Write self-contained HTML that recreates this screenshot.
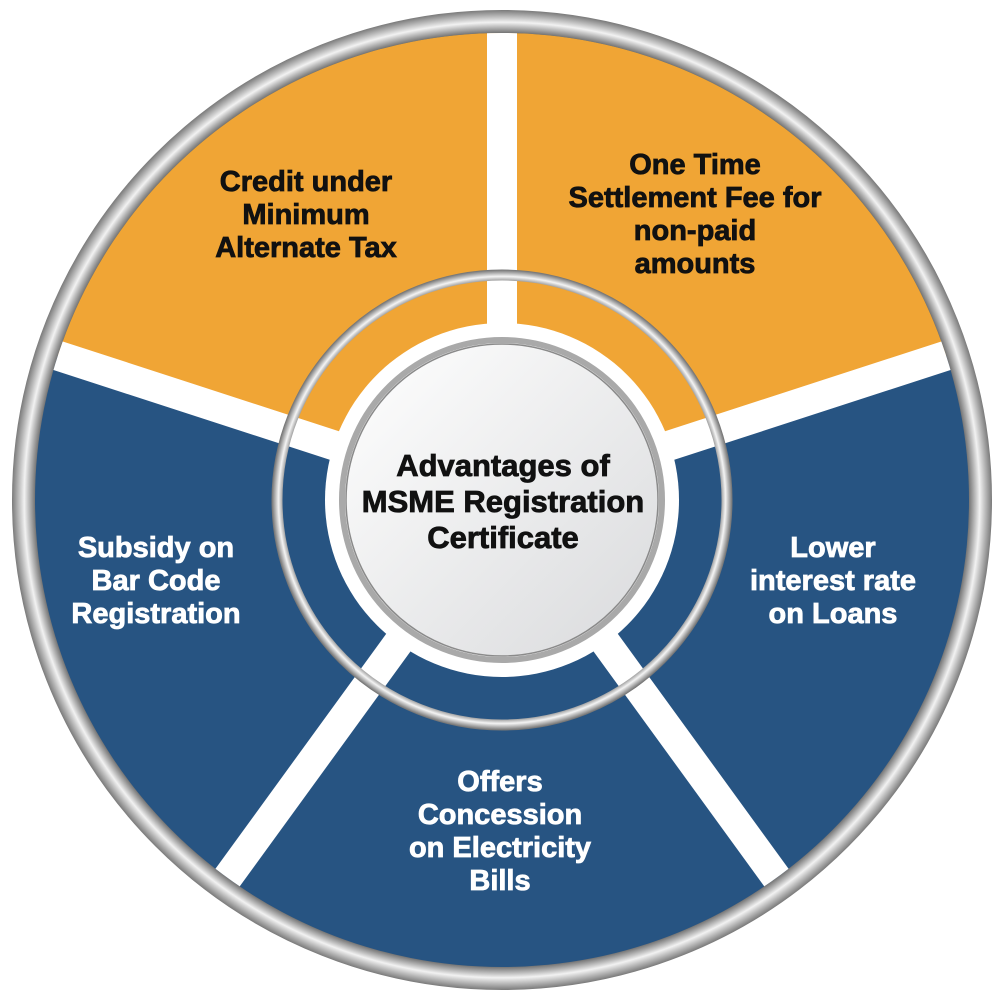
<!DOCTYPE html>
<html><head><style>html,body{margin:0;background:#fff;overflow:hidden;width:1000px;height:1000px}svg{display:block}</style></head><body>
<svg width="1000" height="1000" viewBox="0 0 1000 1000" xmlns="http://www.w3.org/2000/svg">
<defs>
<radialGradient id="ring" cx="502" cy="500" r="490" gradientUnits="userSpaceOnUse">
<stop offset="0.952" stop-color="#6e6e6e"/><stop offset="0.975" stop-color="#f2f2f2"/><stop offset="1" stop-color="#7a7a7a"/>
</radialGradient>
<radialGradient id="ring2" cx="502" cy="500" r="230" gradientUnits="userSpaceOnUse">
<stop offset="0.945" stop-color="#777"/><stop offset="0.972" stop-color="#f4f4f4"/><stop offset="1" stop-color="#777"/>
</radialGradient>
<linearGradient id="disc" x1="0" y1="0" x2="1" y2="1">
<stop offset="0" stop-color="#ffffff"/><stop offset="1" stop-color="#d9dadc"/>
</linearGradient>
<clipPath id="c"><circle cx="502" cy="500" r="467"/></clipPath>
</defs>
<circle cx="502" cy="500" r="478" fill="none" stroke="url(#ring)" stroke-width="24"/>
<g clip-path="url(#c)">
<rect x="0" y="0" width="1000" height="1000" fill="#275482"/>
<polygon points="502,500 1502,175 1502,0 -498,0 -498,175" fill="#F0A535"/>
<g stroke="#fff" stroke-width="30">
<line x1="502" y1="500" x2="502" y2="0"/>
<line x1="502" y1="500" x2="-498" y2="175"/>
<line x1="502" y1="500" x2="1502" y2="175"/>
<line x1="502" y1="500" x2="-86" y2="1309"/>
<line x1="502" y1="500" x2="1090" y2="1309"/>
</g>
</g>
<circle cx="502" cy="500" r="225" fill="none" stroke="url(#ring2)" stroke-width="11"/>
<circle cx="502" cy="500" r="177" fill="#fff"/>
<circle cx="502" cy="500" r="160" fill="none" stroke="#a9a9a9" stroke-width="6"/>
<circle cx="502" cy="500" r="156" fill="url(#disc)" stroke="#8a8a8a" stroke-width="1.5"/>
<g font-family="Liberation Sans, sans-serif" font-weight="bold" font-size="31" text-anchor="middle" fill="#111" stroke="#111" stroke-width="0.8">
<text x="503" y="476">Advantages of</text>
<text x="503" y="512">MSME Registration</text>
<text x="503" y="548">Certificate</text>
</g>
<g font-family="Liberation Sans, sans-serif" font-weight="bold" font-size="29" text-anchor="middle" fill="#111" stroke="#111" stroke-width="0.8">
<text x="306" y="191">Credit under</text>
<text x="306" y="224">Minimum</text>
<text x="306" y="257">Alternate Tax</text>
<text x="695" y="174">One Time</text>
<text x="695" y="207">Settlement Fee  for</text>
<text x="695" y="240">non-paid</text>
<text x="695" y="273">amounts</text>
</g>
<g font-family="Liberation Sans, sans-serif" font-weight="bold" font-size="29" text-anchor="middle" fill="#fff" stroke="#fff" stroke-width="0.8">
<text x="156" y="557">Subsidy on</text>
<text x="156" y="590">Bar Code</text>
<text x="156" y="623">Registration</text>
<text x="833" y="557">Lower</text>
<text x="833" y="590">interest rate</text>
<text x="833" y="623">on Loans</text>
<text x="500" y="791">Offers</text>
<text x="500" y="824">Concession</text>
<text x="500" y="857">on Electricity</text>
<text x="500" y="890">Bills</text>
</g>
</svg>
</body></html>
